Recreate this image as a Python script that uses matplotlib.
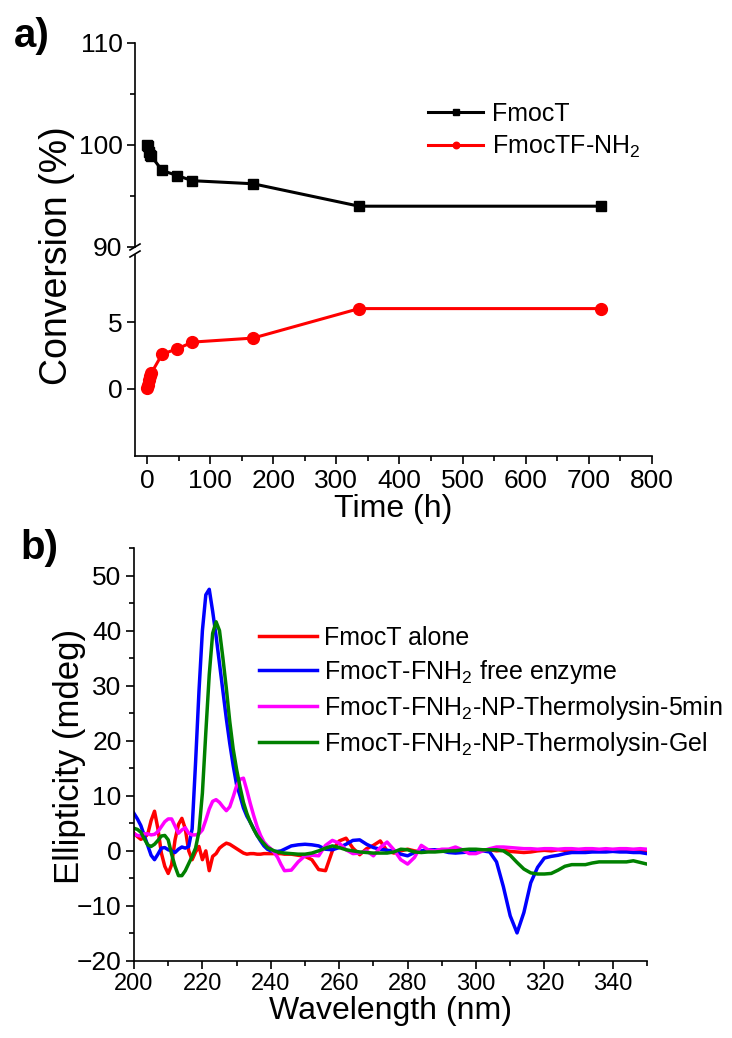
import numpy as np
import matplotlib
matplotlib.use("Agg")
import matplotlib.pyplot as plt
from matplotlib.ticker import MultipleLocator, FixedLocator

plt.rcParams['font.family'] = ['Liberation Sans', 'DejaVu Sans']
plt.rcParams['mathtext.fontset'] = 'custom'
plt.rcParams['mathtext.rm'] = 'Liberation Sans'
plt.rcParams['mathtext.it'] = 'Liberation Sans:italic'
plt.rcParams['mathtext.bf'] = 'Liberation Sans:bold'

# ---- panel a: conversion vs time ----
time_h = [0, 1, 3, 5, 7, 24, 48, 72, 168, 336, 720]
fmoct = [100, 99.9, 99.3, 99.0, 98.9, 97.5, 97.0, 96.5, 96.2, 94.0, 94.0]
fmoctf_nh2 = [0.1, 0.3, 0.7, 1.0, 1.2, 2.6, 3.0, 3.5, 3.8, 6.0, 6.0]

# ---- panel b: CD spectra ----
wavelength = list(range(200, 245)) + list(range(246, 351, 2))

cd_alone = [3.2, 2.6, 2.1, 2.4, 3.0, 5.5, 7.2, 4.0, -0.4, -2.8,
            -4.1, -2.5, 2.0, 4.8, 5.9, 4.0, 0.0, -1.6, -0.2, 0.8,
            -1.6, 0.0, -3.6, -1.0, -0.5, 0.5, 1.0, 1.4, 1.2, 0.8,
            0.4, 0.0, -0.4, -0.6, -0.5, -0.5, -0.6, -0.6, -0.5, -0.5,
            -0.5, -0.5, -0.5, -0.5, -0.6,
            -0.6, -0.8, -1.0, -1.6, -3.4, -3.6, 0.0, 1.8, 2.3, 0.5,
            -0.7, 0.4, 1.0, 1.8, 0.0, -0.4, 0.0, 0.3, 0.0, -0.2,
            0.2, 0.0, 0.2, 0.0, 0.1, 0.0, 0.2, 0.0, 0.1, 0.2,
            0.0, 0.1, -0.1, -0.2, -0.3, -0.2, 0.0, 0.1, 0.0, 0.2,
            0.1, 0.0, 0.1, 0.2, 0.0, 0.1, 0.0, 0.1, 0.0, 0.0,
            0.1, 0.0, 0.0]

cd_free = [6.8, 5.8, 4.6, 2.8, 1.0, -0.8, -1.6, -0.6, 0.5, 0.6,
           0.2, 0.0, -0.3, 0.3, 0.7, 0.5, 0.8, 4.0, 16.0, 29.0,
           40.0, 46.5, 47.5, 43.5, 39.0, 34.0, 29.0, 24.0, 19.5, 15.5,
           12.0, 10.0, 7.8, 6.3, 5.2, 4.0, 2.8, 1.8, 0.9, 0.3,
           0.0, -0.1, -0.1, 0.0, 0.3,
           0.9, 1.1, 1.2, 1.1, 0.9, 0.3, 0.2, 0.6, 1.2, 1.9,
           2.0, 1.2, 0.6, 0.3, 0.1, 0.0, -0.6, -0.9, -0.3, 0.0,
           0.2, 0.2, 0.0, -0.3, -0.4, -0.3, -0.2, -0.2, 0.0, -0.2,
           -2.0, -6.5, -11.8, -14.9, -11.2, -5.8, -3.0, -1.3, -1.0, -0.8,
           -0.5, -0.3, -0.3, -0.3, -0.2, -0.2, -0.2, -0.1, -0.2, -0.2,
           -0.3, -0.3, -0.5]

cd_np_5min = [3.1, 2.8, 2.7, 3.1, 3.1, 2.9, 3.0, 3.5, 4.4, 5.3,
              5.8, 5.8, 4.5, 3.2, 3.8, 4.2, 3.2, 2.9, 2.9, 3.1,
              3.8, 5.6, 7.6, 9.0, 9.3, 8.8, 8.0, 7.3, 8.0, 9.8,
              11.8, 13.0, 13.2, 11.0, 8.6, 6.4, 4.4, 2.8, 1.6, 0.9,
              0.4, -0.3, -1.2, -2.5, -3.6,
              -3.5, -2.0, -0.9, -0.8, -0.9, 1.0, 1.9, 1.4, 0.2, -0.5,
              -0.4, 0.0, -0.9, 0.6, 1.6, 0.2, -1.6, -2.4, -1.2, 1.0,
              0.2, 0.0, 0.3, 0.3, 0.7, 0.2, -0.5, -0.5, 0.0, 0.4,
              0.7, 0.7, 0.6, 0.5, 0.4, 0.4, 0.3, 0.4, 0.4, 0.3,
              0.4, 0.4, 0.3, 0.4, 0.4, 0.3, 0.4, 0.3, 0.4, 0.4,
              0.3, 0.4, 0.3]

cd_np_gel = [4.1, 3.9, 3.4, 2.2, 1.1, 0.8, 1.2, 1.9, 2.7, 2.8,
             2.0, -0.6, -2.8, -4.5, -4.5, -3.6, -2.3, -1.0, 0.5, 3.5,
             10.5, 21.5, 32.0, 39.5, 41.6, 40.0, 35.0, 29.5, 23.5, 18.5,
             14.8, 11.6, 8.8, 6.8, 5.2, 3.9, 2.8, 2.0, 1.3, 0.6,
             0.3, 0.0, -0.2, -0.3, -0.4,
             -0.5, -0.6, -0.6, -0.4, 0.0, 0.5, 0.9, 0.6, 0.2, 0.0,
             -0.2, -0.3, -0.4, -0.4, -0.4, -0.2, 0.3, 0.2, -0.2, -0.3,
             -0.2, -0.2, -0.1, 0.0, 0.0, 0.2, 0.3, 0.3, 0.2, 0.2,
             0.2, 0.0, -0.8, -2.1, -3.3, -4.0, -4.2, -4.2, -4.1, -3.5,
             -2.8, -2.5, -2.5, -2.5, -2.2, -2.0, -2.0, -2.0, -2.0, -2.0,
             -1.8, -2.1, -2.4]

cd_labels = ['FmocT alone', 'FmocT-FNH$_2$ free enzyme',
             'FmocT-FNH$_2$-NP-Thermolysin-5min',
             'FmocT-FNH$_2$-NP-Thermolysin-Gel']
cd_colors = ['#ff0000', '#0000ff', '#ff00ff', '#008000']

W, H = 732, 1038
fig = plt.figure(figsize=(W / 100, H / 100), dpi=100)


def px_axes(x0, x1, y0, y1):
    # pixel box (top-left origin) -> figure axes
    return fig.add_axes([x0 / W, 1 - y1 / H, (x1 - x0) / W, (y1 - y0) / H])


def style(ax, left=True, bottom=True):
    for s in ['top', 'right']:
        ax.spines[s].set_visible(False)
    ax.spines['left'].set_visible(left)
    ax.spines['bottom'].set_visible(bottom)
    for s in ax.spines.values():
        s.set_linewidth(1.2)
    ax.tick_params(which='major', direction='out', length=6, width=1.2, pad=3)
    ax.tick_params(which='minor', direction='out', length=3.5, width=1.2)


# top broken axis
ax_hi = px_axes(135, 652, 43, 247)
ax_lo = px_axes(135, 652, 255, 456)

for ax in (ax_hi, ax_lo):
    ax.plot(time_h, fmoct, color='black', lw=2.2, marker='s', ms=7,
            label='FmocT')
    ax.plot(time_h, fmoctf_nh2, color='#ff0000', lw=2.2, marker='o', ms=8.5,
            label='FmocTF-NH$_2$')
    ax.set_xlim(-19, 800)

style(ax_hi, bottom=False)
style(ax_lo)
ax_hi.set_ylim(90, 110)
ax_hi.yaxis.set_major_locator(FixedLocator([90, 100, 110]))
ax_hi.yaxis.set_minor_locator(FixedLocator([95, 105]))
ax_hi.tick_params(axis='x', which='both', bottom=False, labelbottom=False)
ax_lo.set_ylim(-5, 10)
ax_lo.yaxis.set_major_locator(FixedLocator([0, 5]))
ax_lo.xaxis.set_major_locator(MultipleLocator(100))
ax_lo.xaxis.set_minor_locator(MultipleLocator(50))
for ax in (ax_hi, ax_lo):
    ax.tick_params(axis='both', labelsize=19)
ax_lo.set_xlabel('Time (h)', fontsize=23, labelpad=1)

# break marks on the left spine
d = 5
for yb in (247, 254):
    fig.add_artist(plt.Line2D([(135 - d) / W, (135 + d) / W],
                              [1 - (yb + 3) / H, 1 - (yb - 3) / H],
                              color='black', lw=1.2))

fig.text(57 / W, 1 - 256 / H, 'Conversion (%)', rotation=90,
         fontsize=27, ha='center', va='center')

ax_hi.legend(loc='upper left', bbox_to_anchor=(428 / W, 1 - 102 / H),
             bbox_transform=fig.transFigure, frameon=False, fontsize=18,
             handlelength=2.2, handletextpad=0.35, markerscale=0.55,
             labelspacing=0.3, borderaxespad=0, borderpad=0)

fig.text(32 / W, 1 - 36 / H, 'a)', fontsize=29, fontweight='bold',
         ha='center', va='center')

# bottom panel
ax_cd = px_axes(134, 647, 548, 961)
style(ax_cd)
for y, lab, c in zip([cd_alone, cd_free, cd_np_5min, cd_np_gel],
                     cd_labels, cd_colors):
    ax_cd.plot(wavelength, y, color=c, lw=2.5, label=lab)
ax_cd.set_xlim(200, 350)
ax_cd.set_ylim(-20, 55)
ax_cd.xaxis.set_major_locator(MultipleLocator(20))
ax_cd.xaxis.set_minor_locator(MultipleLocator(10))
ax_cd.yaxis.set_major_locator(MultipleLocator(10))
ax_cd.yaxis.set_minor_locator(MultipleLocator(5))
ax_cd.tick_params(axis='x', labelsize=17)
ax_cd.tick_params(axis='y', labelsize=19)
ax_cd.set_xlabel('Wavelength (nm)', fontsize=23, labelpad=0)
fig.text(70 / W, 1 - 756 / H, 'Ellipticity (mdeg)', rotation=90,
         fontsize=25, ha='center', va='center')
ax_cd.legend(loc='upper left', bbox_to_anchor=(259 / W, 1 - 626 / H),
             bbox_transform=fig.transFigure, frameon=False, fontsize=18,
             handlelength=2.3, handletextpad=0.3, labelspacing=0.32,
             borderaxespad=0, borderpad=0)

fig.text(39 / W, 1 - 548 / H, 'b)', fontsize=29, fontweight='bold',
         ha='center', va='center')

fig.savefig('out.png', dpi=100)
